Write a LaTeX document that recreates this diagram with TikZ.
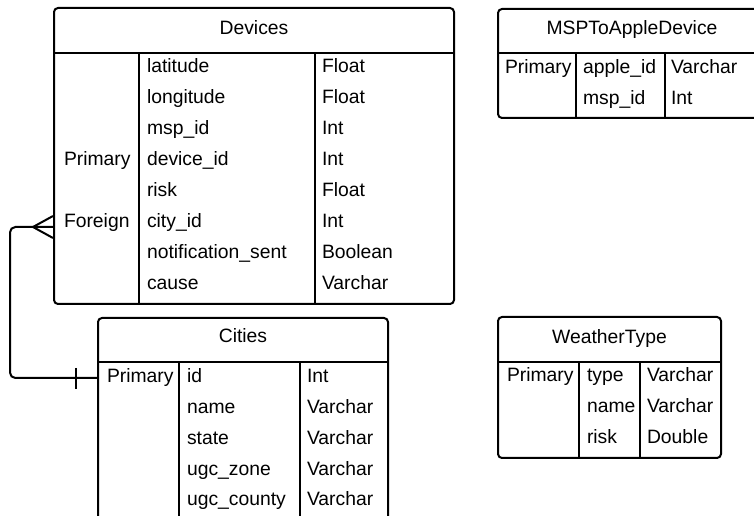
\documentclass[tikz,border=0pt]{standalone}
\usepackage{fontspec}
\setmainfont{Liberation Sans}
\usetikzlibrary{fit}
\begin{document}
\begin{tikzpicture}[x=0.75pt,y=-0.75pt,line width=1.5pt,
  tbl/.style={draw,rounded corners=3pt,inner sep=0pt},
  cell/.style={anchor=base west,inner sep=0pt,font=\fontsize{14.5}{17}\selectfont},
  head/.style={anchor=base,inner sep=0pt,font=\fontsize{14.5}{17}\selectfont},
  rel/.style={line width=1.5pt}]
\useasboundingbox (0,0) rectangle (754,516);
\clip (0,0) rectangle (754,516);
% ---------- Devices
\coordinate (dvA) at (54,8); \coordinate (dvB) at (454,304);
\node[tbl,fit=(dvA)(dvB)] (devices) {};
\draw (54,53) -- (454,53) (139,53) -- (139,304) (315,53) -- (315,304);
\node[head] (devhead) at (254,35) {Devices};
\foreach \n/\t [count=\i] in {latitude/Float,longitude/Float,msp\_id/Int,device\_id/Int,risk/Float,city\_id/Int,notification\_sent/Boolean,cause/Varchar}{
  \node[cell] (dvn\i) at (146,{73+31*(\i-1)}) {\n};
  \node[cell] (dvt\i) at (321,{73+31*(\i-1)}) {\t};
}
\node[cell] (dvk4) at (63,166) {Primary};
\node[cell] (dvk6) at (63,228) {Foreign};
% ---------- Cities
\coordinate (ctA) at (98,318); \coordinate (ctB) at (388,530);
\node[tbl,fit=(ctA)(ctB)] (cities) {};
\draw (98,362) -- (388,362) (179,362) -- (179,530) (300,362) -- (300,530);
\node[head] (cthead) at (243,343) {Cities};
\foreach \n/\t [count=\i] in {id/Int,name/Varchar,state/Varchar,ugc\_zone/Varchar,ugc\_county/Varchar}{
  \node[cell] (ctn\i) at (186,{383+30.75*(\i-1)}) {\n};
  \node[cell] (ctt\i) at (306,{383+30.75*(\i-1)}) {\t};
}
\node[cell] (ctk1) at (106,383) {Primary};
% ---------- MSPToAppleDevice
\coordinate (msA) at (498,9); \coordinate (msB) at (766,118);
\node[tbl,fit=(msA)(msB)] (msp) {};
\draw (498,53) -- (766,53) (576,53) -- (576,118) (665,53) -- (665,118);
\node[head] (mshead) at (632,35) {MSPToAppleDevice};
\node[cell] (msk1) at (504,74) {Primary};
\node[cell] (msn1) at (582,74) {apple\_id};
\node[cell] (mst1) at (670,74) {Varchar};
\node[cell] (msn2) at (582,105) {msp\_id};
\node[cell] (mst2) at (670,105) {Int};
% ---------- WeatherType
\coordinate (wtA) at (498,317); \coordinate (wtB) at (721,458);
\node[tbl,fit=(wtA)(wtB)] (weather) {};
\draw (498,362) -- (721,362) (579,362) -- (579,458) (640,362) -- (640,458);
\node[head] (wthead) at (609.5,344) {WeatherType};
\node[cell] (wtk1) at (506,382) {Primary};
\foreach \n/\t [count=\i] in {type/Varchar,name/Varchar,risk/Double}{
  \node[cell] (wtn\i) at (586,{382+31*(\i-1)}) {\n};
  \node[cell] (wtt\i) at (646,{382+31*(\i-1)}) {\t};
}
% ---------- relation Devices.city_id >-- Cities.id
\coordinate (fk) at (devices.west |- 0,227);
\coordinate (pk) at (cities.west |- 0,378);
\coordinate (crow) at (33,227);
\draw[rel,rounded corners=4pt] (fk) -- (10,227) -- (10,378) -- (pk);
\draw[rel] (crow) -- (devices.west |- 0,216) (crow) -- (devices.west |- 0,238);
\draw[rel] (76,368) -- (76,389);
\end{tikzpicture}
\end{document}
